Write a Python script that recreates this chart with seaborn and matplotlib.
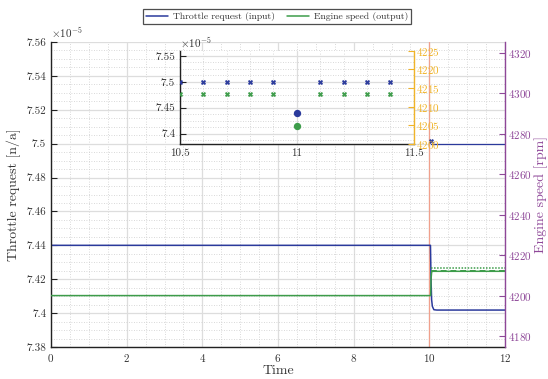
import numpy as np
import pandas as pd
import matplotlib
matplotlib.use("Agg")
import matplotlib.pyplot as plt
from matplotlib.ticker import AutoMinorLocator, FuncFormatter
from matplotlib.lines import Line2D
import seaborn as sns

# ---------------- data ----------------
time_throttle = [0.0, 10.03, 10.045, 10.06, 10.08, 10.12, 10.2, 12.0]
throttle = [7.44e-5, 7.44e-5, 7.42e-5, 7.408e-5, 7.404e-5, 7.402e-5, 7.4018e-5, 7.4018e-5]

time_speed = [0.0, 10.035, 10.045, 10.06, 10.08, 12.0]
speed = [4200.0, 4200.0, 4208.0, 4211.5, 4212.0, 4212.0]

ref_time = [10.04, 12.0]
speed_dotted = [4213.7, 4213.7]
speed_dashed = [4212.0, 4212.0]
throttle_ref = [7.5e-5, 7.5e-5]
throttle_ref_marker_t = [10.04]
throttle_ref_marker_v = [7.5014e-5]

inset_t = [10.5, 10.6, 10.7, 10.8, 10.9, 11.1, 11.2, 11.3, 11.4]
inset_throttle = [7.5e-5] * 9
inset_speed = [4213.3] * 9
inset_center_t = [11.0]
inset_center_throttle = [7.4393e-5]
inset_center_speed = [4204.9]

# ---------------- style ----------------
sns.set_style("white")
plt.rcParams["font.family"] = ["cmr10", "DejaVu Serif"]
plt.rcParams["mathtext.fontset"] = "cm"
plt.rcParams["axes.formatter.use_mathtext"] = True
plt.rcParams["axes.unicode_minus"] = False

BLUE = "#2b3a9c"
GREEN = "#3d9c4a"
PURPLE = "#8e4798"
ORANGE = "#f0b429"
RED = "#f0a08c"
TXT = "#333333"

fig = plt.figure(figsize=(5.48, 3.79), dpi=100)
ax = fig.add_axes([51 / 548, 1 - 347 / 379, 454 / 548, 305 / 379])
ax2 = ax.twinx()

sci = FuncFormatter(lambda v, p: f"{v / 1e-5:g}")

# main lines
sns.lineplot(x=time_throttle, y=throttle, ax=ax, color=BLUE, lw=1.1,
             label="Throttle request (input)", estimator=None, sort=False)
sns.lineplot(x=ref_time, y=throttle_ref, ax=ax, color=BLUE, lw=0.9,
             estimator=None, sort=False)
ax.plot(throttle_ref_marker_t, throttle_ref_marker_v, ls="none", marker="X",
        ms=3.2, color=BLUE, mew=0.3, mec=BLUE)
ax.axvline(10, color=RED, lw=0.9, zorder=1.5)

sns.lineplot(x=time_speed, y=speed, ax=ax2, color=GREEN, lw=1.1,
             label="Engine speed (output)", estimator=None, sort=False)
ax2.plot(ref_time, speed_dotted, color=GREEN, lw=1.1, ls=(0, (1, 1)))
ax2.plot(ref_time, speed_dashed, color=GREEN, lw=1.4, ls=(0, (3, 2)))

for a in (ax, ax2):
    if a.get_legend() is not None:
        a.get_legend().remove()

ax.set_xlim(0, 12)
ax.set_ylim(7.38e-5, 7.56e-5)
ax2.set_ylim(4174.6, 4325.3)
ax.set_xticks(np.arange(0, 13, 2))
ax.set_yticks(np.arange(7.38e-5, 7.5601e-5, 0.02e-5))
ax.yaxis.set_major_formatter(sci)
ax.xaxis.set_minor_locator(AutoMinorLocator(4))
ax.yaxis.set_minor_locator(AutoMinorLocator(4))
ax.grid(which="major", color="#dddddd", lw=0.9, ls="-")
ax.grid(which="minor", color="#cccccc", lw=0.6, ls=(0, (1, 2)))
ax.set_axisbelow(True)
ax.tick_params(which="major", direction="in", length=4, width=0.8,
               labelsize=8, labelcolor=TXT, color="#222222")
ax.tick_params(which="minor", length=0)
ax.spines["top"].set_visible(False)
ax.spines["right"].set_visible(False)
for s in ("left", "bottom"):
    ax.spines[s].set_color("#222222")
    ax.spines[s].set_linewidth(1.0)
ax.set_xlabel("Time", fontsize=10, color=TXT, labelpad=1)
ax.set_ylabel("Throttle request [n/a]", fontsize=10, color=TXT, labelpad=4)
ax.text(0.0, 1.005, r"$\times10^{-5}$", transform=ax.transAxes, fontsize=8,
        color=TXT, ha="left", va="bottom")

ax2.set_yticks(np.arange(4180, 4321, 20))
ax2.tick_params(axis="y", direction="in", length=4, width=0.8, labelsize=8,
                colors=PURPLE, pad=2)
for s in ("top", "left", "bottom"):
    ax2.spines[s].set_visible(False)
ax2.spines["right"].set_color(PURPLE)
ax2.spines["right"].set_linewidth(1.0)
ax2.set_ylabel("Engine speed [rpm]", fontsize=10, color=PURPLE, labelpad=2)

# ---------------- inset ----------------
axi = fig.add_axes([180 / 548, 1 - 144 / 379, 233.7 / 548, 93.3 / 379])
axi.set_facecolor("white")
axi2 = axi.twinx()

sns.scatterplot(x=inset_t, y=inset_throttle, ax=axi, color=BLUE, marker="X",
                s=12, linewidth=0.2, edgecolor=BLUE, zorder=3)
sns.scatterplot(x=inset_center_t, y=inset_center_throttle, ax=axi, color=BLUE,
                marker="o", s=28, linewidth=0, zorder=3)
sns.scatterplot(x=inset_t, y=inset_speed, ax=axi2, color=GREEN, marker="X",
                s=12, linewidth=0.2, edgecolor=GREEN, zorder=3)
sns.scatterplot(x=inset_center_t, y=inset_center_speed, ax=axi2, color=GREEN,
                marker="o", s=28, linewidth=0, zorder=3)

axi.set_xlim(10.5, 11.5)
axi.set_ylim(7.38e-5, 7.56e-5)
axi2.set_ylim(4200, 4225)
axi.set_xticks([10.5, 11.0, 11.5])
axi.set_yticks([7.4e-5, 7.45e-5, 7.5e-5, 7.55e-5])
axi.xaxis.set_major_formatter(FuncFormatter(lambda v, p: f"{v:g}"))
axi.yaxis.set_major_formatter(sci)
axi.xaxis.set_minor_locator(AutoMinorLocator(5))
axi.yaxis.set_minor_locator(AutoMinorLocator(4))
axi.grid(which="major", color="#dddddd", lw=0.9, ls="-")
axi.grid(which="minor", color="#cccccc", lw=0.6, ls=(0, (1, 2)))
axi.set_axisbelow(True)
axi.tick_params(which="major", direction="in", length=4, width=0.8,
                labelsize=8, labelcolor=TXT, color="#222222")
axi.tick_params(which="minor", length=0)
axi.spines["top"].set_visible(False)
axi.spines["right"].set_visible(False)
for s in ("left", "bottom"):
    axi.spines[s].set_color("#222222")
    axi.spines[s].set_linewidth(1.0)
axi.text(0.0, 1.01, r"$\times10^{-5}$", transform=axi.transAxes, fontsize=8,
         color=TXT, ha="left", va="bottom")

axi2.set_yticks(np.arange(4200, 4226, 5))
axi2.tick_params(axis="y", direction="in", length=4, width=0.8, labelsize=8,
                 colors=ORANGE, pad=2)
for s in ("top", "left", "bottom"):
    axi2.spines[s].set_visible(False)
axi2.spines["right"].set_color(ORANGE)
axi2.spines["right"].set_linewidth(1.0)

# ---------------- legend ----------------
handles = [Line2D([], [], color=BLUE, lw=1.1), Line2D([], [], color=GREEN, lw=1.1)]
leg = fig.legend(handles, ["Throttle request (input)", "Engine speed (output)"],
                 loc="center", bbox_to_anchor=(277 / 548, 1 - 16.5 / 379), ncol=2,
                 fontsize=7, frameon=True, fancybox=False, edgecolor="#222222",
                 handlelength=2.3, borderpad=0.3, columnspacing=1.2,
                 handletextpad=0.5)
leg.get_frame().set_linewidth(0.9)
for t in leg.get_texts():
    t.set_color(TXT)

fig.savefig("out.png", dpi=100)
